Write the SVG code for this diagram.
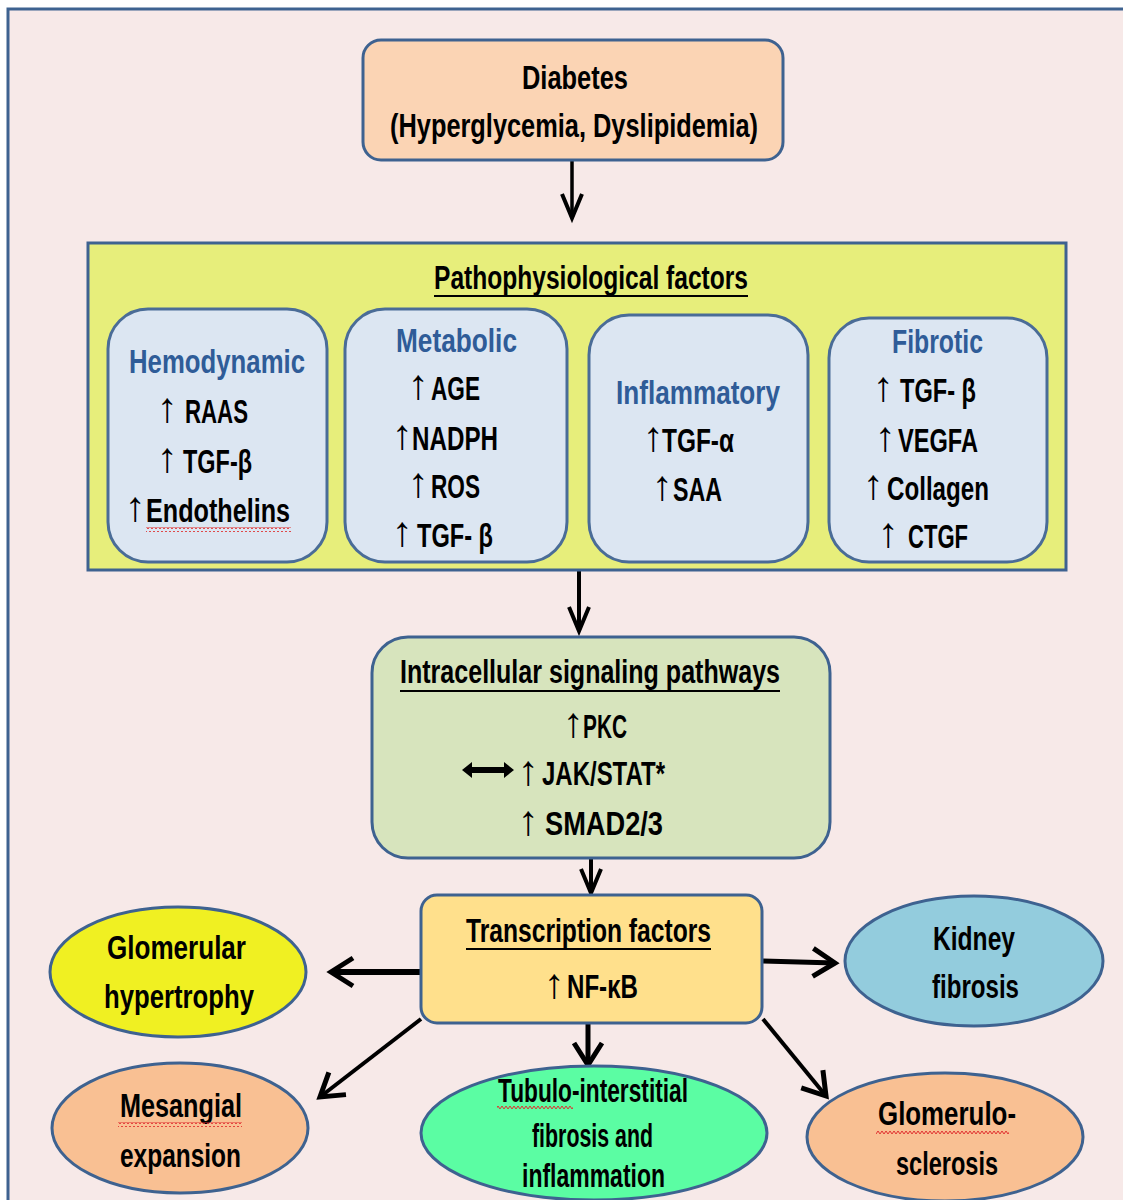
<svg xmlns="http://www.w3.org/2000/svg" width="1123" height="1200" viewBox="0 0 1123 1200">
<defs>
<style>
.t{font-family:"Liberation Sans Narrow","Liberation Sans",Arial,sans-serif;font-weight:bold;font-size:34px;fill:#000}
.h{fill:#2F5C98}
.ar{font-family:"Liberation Sans",Arial,sans-serif;font-weight:normal;font-size:42px}
.box{stroke:#3E6290;stroke-width:3}
.sub{fill:#DCE6F2;stroke:#4A6C97;stroke-width:3}
.ul{stroke:#000;stroke-width:2}
.c{stroke:#000;fill:none}
.sq{fill:url(#squig)}
</style>
<marker id="ah" markerUnits="userSpaceOnUse" markerWidth="40" markerHeight="40" viewBox="-30 -20 40 40" refX="0" refY="0" orient="auto">
<path d="M-22,-14 L0,0 L-22,14" fill="none" stroke="#000" stroke-width="5" stroke-linejoin="miter"/>
</marker>
<marker id="ahs" markerUnits="userSpaceOnUse" markerWidth="40" markerHeight="40" viewBox="-30 -20 40 40" refX="0" refY="0" orient="auto">
<path d="M-24,-10 L0,0 L-24,10" fill="none" stroke="#000" stroke-width="4" stroke-linejoin="miter"/>
</marker>
<pattern id="squig" patternUnits="userSpaceOnUse" width="4" height="5" x="0" y="0">
<path d="M0,4 L2,1 L4,4" fill="none" stroke="#E03030" stroke-width="1"/>
</pattern>
</defs>

<rect x="0" y="0" width="1123" height="1200" fill="#FFFFFF"/>
<rect id="frame" x="8" y="9" width="1130" height="1210" fill="#F7E9E8" stroke="#3E6290" stroke-width="3"/>

<g id="connectors">
<line class="c" x1="572" y1="160" x2="572" y2="218" stroke-width="3.5" marker-end="url(#ahs)"/>
<line class="c" x1="579" y1="571" x2="579" y2="631" stroke-width="4" marker-end="url(#ahs)"/>
<line class="c" x1="591" y1="859" x2="591" y2="893" stroke-width="4" marker-end="url(#ahs)"/>
<line class="c" x1="420" y1="972" x2="331" y2="972" stroke-width="6" marker-end="url(#ah)"/>
<line class="c" x1="763" y1="961" x2="835" y2="963" stroke-width="5" marker-end="url(#ah)"/>
<line class="c" x1="588" y1="1023" x2="588" y2="1065" stroke-width="5" marker-end="url(#ah)"/>
<line class="c" x1="421" y1="1019" x2="320" y2="1097" stroke-width="4" marker-end="url(#ah)"/>
<line class="c" x1="763" y1="1019" x2="826" y2="1096" stroke-width="4" marker-end="url(#ah)"/>
</g>

<g id="diabetes">
<rect class="box" x="363" y="40" width="420" height="120" rx="18" fill="#FBD4B4"/>
<text class="t" x="522" y="89" font-size="36" textLength="106" lengthAdjust="spacingAndGlyphs">Diabetes</text>
<text class="t" x="390" y="137" font-size="36" textLength="368" lengthAdjust="spacingAndGlyphs">(Hyperglycemia, Dyslipidemia)</text>
</g>

<g id="pathophysiological">
<rect class="box" x="88" y="243" width="978" height="327" fill="#E7EE7B"/>
<text class="t" x="434" y="289" textLength="314" lengthAdjust="spacingAndGlyphs">Pathophysiological factors</text>
<line class="ul" x1="434" y1="296" x2="748" y2="296"/>
</g>

<g id="hemodynamic">
<rect class="sub" x="108" y="309" width="219" height="253" rx="40"/>
<text class="t h" x="129" y="373" textLength="176" lengthAdjust="spacingAndGlyphs">Hemodynamic</text>
<text class="t"><tspan class="ar" x="156.5" y="422">↑</tspan><tspan x="185" y="423" textLength="63" lengthAdjust="spacingAndGlyphs">RAAS</tspan></text>
<text class="t"><tspan class="ar" x="156.5" y="472">↑</tspan><tspan x="183" y="473" textLength="69" lengthAdjust="spacingAndGlyphs">TGF-β</tspan></text>
<text class="t"><tspan class="ar" x="124.5" y="521">↑</tspan><tspan x="146" y="522" textLength="144" lengthAdjust="spacingAndGlyphs">Endothelins</tspan></text>
<rect class="sq" x="146" y="527" width="145" height="5"/>
</g>

<g id="metabolic">
<rect class="sub" x="345" y="309" width="222" height="253" rx="40"/>
<text class="t h" x="396" y="352" textLength="121" lengthAdjust="spacingAndGlyphs">Metabolic</text>
<text class="t"><tspan class="ar" x="407.5" y="399">↑</tspan><tspan x="431" y="400" textLength="49" lengthAdjust="spacingAndGlyphs">AGE</tspan></text>
<text class="t"><tspan class="ar" x="391.5" y="449">↑</tspan><tspan x="412" y="450" textLength="86" lengthAdjust="spacingAndGlyphs">NADPH</tspan></text>
<text class="t"><tspan class="ar" x="407.5" y="497">↑</tspan><tspan x="431" y="498" textLength="49" lengthAdjust="spacingAndGlyphs">ROS</tspan></text>
<text class="t"><tspan class="ar" x="391.5" y="546">↑</tspan><tspan x="417" y="547" textLength="76" lengthAdjust="spacingAndGlyphs">TGF- β</tspan></text>
</g>

<g id="inflammatory">
<rect class="sub" x="589" y="315" width="219" height="247" rx="40"/>
<text class="t h" x="616" y="404" textLength="164" lengthAdjust="spacingAndGlyphs">Inflammatory</text>
<text class="t"><tspan class="ar" x="642.5" y="451">↑</tspan><tspan x="662" y="452" textLength="72" lengthAdjust="spacingAndGlyphs">TGF-α</tspan></text>
<text class="t"><tspan class="ar" x="651.5" y="500">↑</tspan><tspan x="673" y="501" textLength="49" lengthAdjust="spacingAndGlyphs">SAA</tspan></text>
</g>

<g id="fibrotic">
<rect class="sub" x="829" y="318" width="218" height="244" rx="40"/>
<text class="t h" x="892" y="353" textLength="91" lengthAdjust="spacingAndGlyphs">Fibrotic</text>
<text class="t"><tspan class="ar" x="872.5" y="401">↑</tspan><tspan x="900" y="402" textLength="76" lengthAdjust="spacingAndGlyphs">TGF- β</tspan></text>
<text class="t"><tspan class="ar" x="874.5" y="451">↑</tspan><tspan x="898" y="452" textLength="80" lengthAdjust="spacingAndGlyphs">VEGFA</tspan></text>
<text class="t"><tspan class="ar" x="862.5" y="499">↑</tspan><tspan x="887" y="500" textLength="102" lengthAdjust="spacingAndGlyphs">Collagen</tspan></text>
<text class="t"><tspan class="ar" x="877.5" y="547">↑</tspan><tspan x="908" y="548" textLength="60" lengthAdjust="spacingAndGlyphs">CTGF</tspan></text>
</g>

<g id="intracellular">
<rect class="box" x="372" y="637" width="458" height="221" rx="36" fill="#D7E4BD"/>
<text class="t" x="400" y="683" textLength="380" lengthAdjust="spacingAndGlyphs">Intracellular signaling pathways</text>
<line class="ul" x1="400" y1="691" x2="780" y2="691"/>
<text class="t"><tspan class="ar" x="562.5" y="737">↑</tspan><tspan x="583" y="738" textLength="44" lengthAdjust="spacingAndGlyphs">PKC</tspan></text>
<polygon points="462,770 472,762 472,767 504,767 504,762 514,770 504,778 504,773 472,773 472,778" fill="#000"/>
<text class="t"><tspan class="ar" x="517.5" y="785">↑</tspan><tspan x="542" y="785" textLength="123" lengthAdjust="spacingAndGlyphs">JAK/STAT*</tspan></text>
<text class="t"><tspan class="ar" x="517.5" y="835">↑</tspan><tspan x="545" y="835" textLength="118" lengthAdjust="spacingAndGlyphs">SMAD2/3</tspan></text>
</g>

<g id="transcription">
<rect class="box" x="421" y="895" width="341" height="128" rx="16" fill="#FFE08C"/>
<text class="t" x="466" y="942" textLength="245" lengthAdjust="spacingAndGlyphs">Transcription factors</text>
<line class="ul" x1="466" y1="949" x2="711" y2="949"/>
<text class="t"><tspan class="ar" x="543.5" y="998">↑</tspan><tspan x="567" y="998" textLength="71" lengthAdjust="spacingAndGlyphs">NF-κB</tspan></text>
</g>

<g id="glomerular-hypertrophy">
<ellipse class="box" cx="178" cy="972" rx="128" ry="65" fill="#F0F022"/>
<text class="t" x="107" y="959" textLength="139" lengthAdjust="spacingAndGlyphs">Glomerular</text>
<text class="t" x="104" y="1008" textLength="150" lengthAdjust="spacingAndGlyphs">hypertrophy</text>
</g>

<g id="mesangial-expansion">
<ellipse class="box" cx="180" cy="1128" rx="128" ry="65" fill="#F9C093"/>
<text class="t" x="120" y="1117" textLength="122" lengthAdjust="spacingAndGlyphs">Mesangial</text>
<rect class="sq" x="118" y="1122" width="124" height="5"/>
<text class="t" x="120" y="1167" textLength="121" lengthAdjust="spacingAndGlyphs">expansion</text>
</g>

<g id="tubulo-interstitial">
<ellipse class="box" cx="594" cy="1133" rx="173" ry="67" fill="#5BFDA3"/>
<text class="t" x="498" y="1102" textLength="190" lengthAdjust="spacingAndGlyphs">Tubulo-interstitial</text>
<rect class="sq" x="497" y="1106" width="76" height="5"/>
<text class="t" x="532" y="1147" textLength="121" lengthAdjust="spacingAndGlyphs">fibrosis and</text>
<text class="t" x="522" y="1187" textLength="143" lengthAdjust="spacingAndGlyphs">inflammation</text>
</g>

<g id="kidney-fibrosis">
<ellipse class="box" cx="974" cy="961" rx="129" ry="65" fill="#93CCDD"/>
<text class="t" x="933" y="950" textLength="82" lengthAdjust="spacingAndGlyphs">Kidney</text>
<text class="t" x="932" y="998" textLength="87" lengthAdjust="spacingAndGlyphs">fibrosis</text>
</g>

<g id="glomerulosclerosis">
<ellipse class="box" cx="945" cy="1137" rx="138" ry="64" fill="#F9C093"/>
<text class="t" x="878" y="1125" textLength="138" lengthAdjust="spacingAndGlyphs">Glomerulo-</text>
<rect class="sq" x="876" y="1131" width="133" height="5"/>
<text class="t" x="896" y="1175" textLength="102" lengthAdjust="spacingAndGlyphs">sclerosis</text>
</g>
</svg>
